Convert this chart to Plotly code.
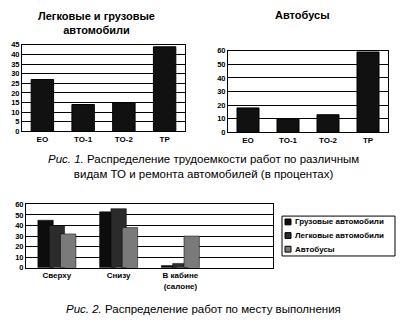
import plotly.graph_objects as go

# Fig. 1 data
cats1 = ["ЕО", "ТО-1", "ТО-2", "ТР"]
cars_trucks = [27, 14, 15, 44]
buses = [18, 10, 13, 59]

# Fig. 2 data
cats2 = ["Сверху", "Снизу", "В кабине<br>(салоне)"]
series_names = ["Грузовые автомобили", "Легковые автомобили", "Автобусы"]
trucks_loc = [45, 53, 2]
cars_loc = [40, 56, 4]
buses_loc = [32, 38, 30]

W, H = 409, 332
def px(x): return x / W
def py(y): return 1 - y / H

FONT = "Liberation Sans Narrow, Arial Narrow, Liberation Sans, Arial, sans-serif"

fig = go.Figure()
fig.add_trace(go.Bar(x=cats1, y=cars_trucks, marker=dict(color="#111111", line=dict(color="#000", width=1)),
                     xaxis="x", yaxis="y", showlegend=False))
fig.add_trace(go.Bar(x=cats1, y=buses, marker=dict(color="#111111", line=dict(color="#000", width=1)),
                     xaxis="x2", yaxis="y2", showlegend=False))
colors3 = ["#0d0d0d", "#2b2b2b", "#7a7a7a"]
for name, vals, c in zip(series_names, [trucks_loc, cars_loc, buses_loc], colors3):
    fig.add_trace(go.Bar(x=list(range(len(cats2))), y=vals, name=name, width=0.25,
                         marker=dict(color=c, line=dict(color="#000", width=0.5)),
                         xaxis="x3", yaxis="y3", showlegend=False))

ax_common = dict(showline=True, linecolor="black", linewidth=1, mirror=True, ticks="")
fig.update_layout(
    width=W, height=H, margin=dict(l=0, r=0, t=0, b=0),
    paper_bgcolor="white", plot_bgcolor="white",
    barmode="group", bargap=0.45,
    font=dict(family=FONT, color="black"),
    xaxis=dict(domain=[px(22), px(185)], anchor="y", **ax_common),
    yaxis=dict(domain=[py(131), py(42)], anchor="x", range=[0, 45], dtick=5,
               showgrid=True, gridcolor="black", gridwidth=1, **ax_common),
    xaxis2=dict(domain=[px(228), px(388)], anchor="y2", **ax_common),
    yaxis2=dict(domain=[py(132), py(48)], anchor="x2", range=[0, 60], dtick=10,
                showgrid=True, gridcolor="black", gridwidth=1, **ax_common),
    xaxis3=dict(domain=[px(26), px(273)], anchor="y3", range=[-0.5, 3.5],
                tickvals=list(range(len(cats2))), ticktext=cats2, **ax_common),
    yaxis3=dict(domain=[py(271), py(206)], anchor="x3", range=[0, 60], dtick=10,
                showgrid=True, gridcolor="black", gridwidth=1, **ax_common),
    showlegend=False,
)

fig.update_xaxes(tickfont=dict(family=FONT, size=8, color="black", weight="bold"))
fig.update_yaxes(tickfont=dict(family=FONT, size=7.5, color="black", weight="bold"))

ann = [
    dict(x=px(96), y=py(20), text="<b>Легковые и грузовые<br>автомобили</b>", size=11),
    dict(x=px(302), y=py(11), text="<b>Автобусы</b>", size=11),
    dict(x=px(203), y=py(167), text="<i>Рис. 1.</i> Распределение трудоемкости работ по различным<br>видам ТО и ремонта автомобилей (в процентах)",
         size=11.5),
    dict(x=px(203), y=py(313), text="<i>Рис. 2.</i> Распределение работ по месту выполнения",
         size=11.5),
]
for a in ann:
    fig.add_annotation(xref="paper", yref="paper", showarrow=False, xanchor="center", yanchor="middle",
                       x=a["x"], y=a["y"], text=a["text"],
                       font=dict(family=FONT, color="black", size=a["size"]))

# manual legend box
fig.add_shape(type="rect", xref="paper", yref="paper", x0=px(282), x1=px(395), y0=py(259), y1=py(218),
              line=dict(color="black", width=1), fillcolor="white")
rows_y = [224, 238, 252]
for name, c, ry in zip(series_names, colors3, rows_y):
    fig.add_shape(type="rect", xref="paper", yref="paper", x0=px(285), x1=px(291), y0=py(ry + 3), y1=py(ry - 3),
                  line=dict(color="black", width=1), fillcolor=c)
    fig.add_annotation(xref="paper", yref="paper", showarrow=False, xanchor="left", yanchor="middle",
                       x=px(293), y=py(ry), text=f"<b>{name}</b>",
                       font=dict(family=FONT, color="black", size=8))

fig.write_html("out.html")
